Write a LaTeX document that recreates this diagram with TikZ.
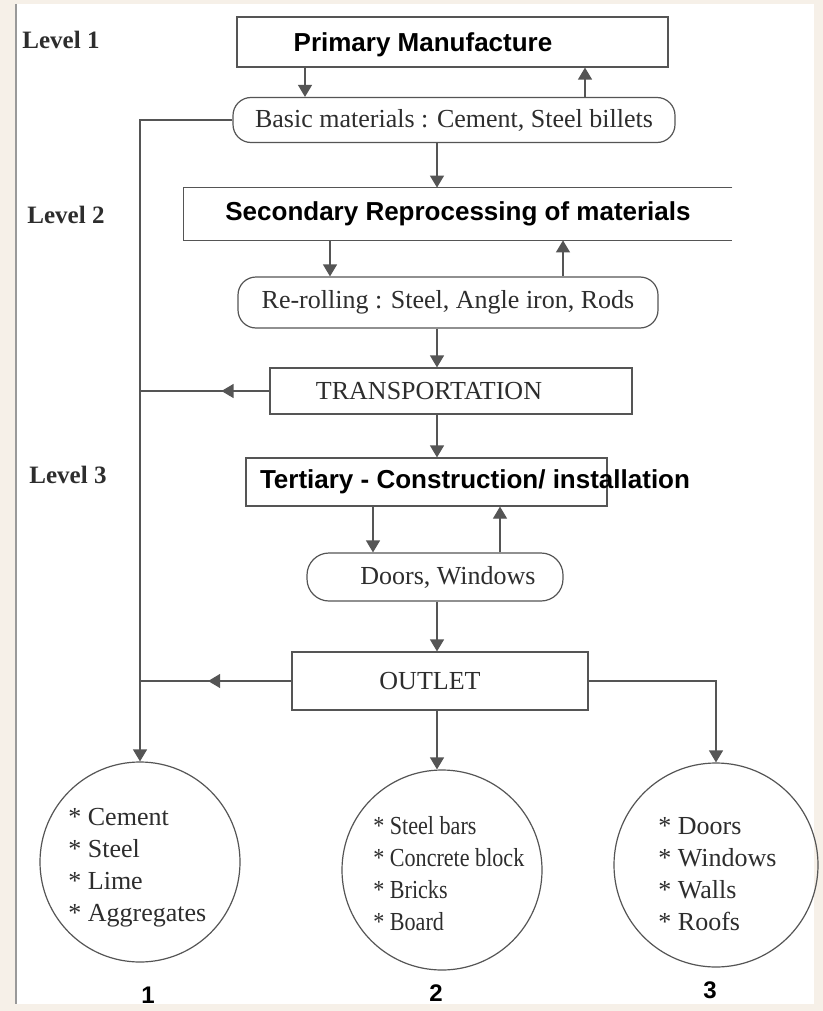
\documentclass[tikz,border=0pt]{standalone}
\usepackage{fontspec}
\setmainfont{Liberation Serif}
\newfontfamily\headfont{Liberation Sans}
\usepackage{tikz}
\usetikzlibrary{arrows.meta,positioning,calc,decorations.markings}
\definecolor{scanline}{RGB}{85,85,85}
\definecolor{scantext}{RGB}{45,45,45}
\definecolor{paper}{RGB}{246,240,232}

\tikzset{
  box/.style={draw=scanline, line width=0.6pt, inner sep=0pt},
  roundbox/.style={box, rounded corners=9pt},
  head/.style={font=\headfont\bfseries\fontsize{13}{15}\selectfont, text=black},
  plain/.style={font=\fontsize{13}{15}\selectfont, text=scantext},
  level/.style={font=\bfseries\fontsize{12.5}{14}\selectfont, text=scantext},
  bubble/.style={draw=scanline, line width=0.6pt, circle, minimum size=100pt, inner sep=0pt},
  items/.style={anchor=west, align=left, inner sep=0pt, font=\fontsize{13}{16}\selectfont, text=scantext},
  number/.style={font=\headfont\bfseries\fontsize{12}{14}\selectfont},
  link/.style={draw=scanline, line width=0.6pt, -{Triangle[length=6pt,width=7pt]}},
  midlink/.style={draw=scanline, line width=0.6pt, postaction={decorate},
    decoration={markings, mark=at position #1 with {\arrow{Triangle[length=6pt,width=7pt]}}}}
}

\begin{document}
\begin{tikzpicture}[x=0.5pt, y=-0.5pt]
    \useasboundingbox (0,0) rectangle (823,1011);
    \fill[paper] (0,0) rectangle (823,1011);
    \fill[white] (16,4) rectangle (814,1004);
    \draw[scanline!60, line width=0.6pt] (16,4) -- (16,1004);

    % Levels
    \node[level] (lev1) at (61,40) {Level 1};
    \node[level] (lev2) at (66,215) {Level 2};
    \node[level] (lev3) at (68,475) {Level 3};

    % Level 1
    \node[box, minimum width=215.5pt, minimum height=25pt] (prim) at (452.5,42) {};
    \node[head] (primtxt) at (423,45) {Primary Manufacture};
    \node[roundbox, plain, minimum width=221pt, minimum height=22.5pt] (basic) at (454,120)
        {Basic materials : Cement, Steel billets};

    % Level 2
    \node[head, minimum width=274pt, minimum height=26pt, inner sep=0pt] (sec) at (458,214)
        {Secondary Reprocessing of materials};
    \draw[scanline, line width=0.6pt] (sec.north east) -- (sec.north west) -- (sec.south west) -- (sec.south east);
    \node[roundbox, plain, minimum width=210pt, minimum height=25.5pt] (reroll) at (448,302.5)
        {Re-rolling : Steel, Angle iron, Rods};
    \node[box, minimum width=181pt, minimum height=23pt] (trans) at (451,391) {};
    \node[plain] (transtxt) at (429,391) {TRANSPORTATION};

    % Level 3
    \node[box, minimum width=180.5pt, minimum height=24pt] (ter) at (426.5,482) {};
    \node[head] (tertxt) at (475,482) {Tertiary - Construction/ installation};
    \node[box, rounded corners=11pt, minimum width=128pt, minimum height=24pt] (doors) at (435,577) {};
    \node[plain] (doorstxt) at (448,577) {Doors, Windows};
    \node[box, minimum width=148pt, minimum height=29pt] (outlet) at (440,681) {};
    \node[plain] (outlettxt) at (430,681) {OUTLET};

    % Products
    \node[bubble] (c1) at (140,862) {};
    \node[bubble] (c2) at (442,870) {};
    \node[bubble, minimum size=102pt] (c3) at (716,865) {};
    \node[items] (c1txt) at (68,868) {* Cement\\* Steel\\* Lime\\* Aggregates};
    \node[items, xscale=0.85, transform shape] (c2txt) at (373,874)
        {* Steel bars\\* Concrete block\\* Bricks\\* Board};
    \node[items] (c3txt) at (658,874) {* Doors\\* Windows\\* Walls\\* Roofs};
    \node[number] (n1) at (148,995) {1};
    \node[number] (n2) at (436,993) {2};
    \node[number] (n3) at (710,990) {3};

    % Flow
    \draw[link] (prim.south -| 305,0) -- (basic.north -| 305,0);
    \draw[link] (basic.north -| 585,0) -- (prim.south -| 585,0);
    \draw[link] (basic.south -| 437,0) -- (sec.north -| 437,0);
    \draw[link] (sec.south -| 330,0) -- (reroll.north -| 330,0);
    \draw[link] (reroll.north -| 563,0) -- (sec.south -| 563,0);
    \draw[link] (reroll.south -| 437,0) -- (trans.north -| 437,0);
    \draw[link] (trans.south -| 437,0) -- (ter.north -| 437,0);
    \draw[link] (ter.south -| 373,0) -- (doors.north -| 373,0);
    \draw[link] (doors.north -| 500,0) -- (ter.south -| 500,0);
    \draw[link] (doors.south -| 437,0) -- (outlet.north -| 437,0);

    % Outputs
    \coordinate (trunk) at (140,120);
    \draw[link] (basic.west) -- (trunk) -- (c1.north);
    \draw[midlink=0.37] (trans.west) -- (trans.west -| trunk);
    \draw[midlink=0.55] (outlet.west) -- (outlet.west -| trunk);
    \draw[link] (outlet.south -| 437,0) -- (c2.north -| 437,0);
    \draw[link] (outlet.east) -- (outlet.east -| c3.north) -- (c3.north);
\end{tikzpicture}
\end{document}
